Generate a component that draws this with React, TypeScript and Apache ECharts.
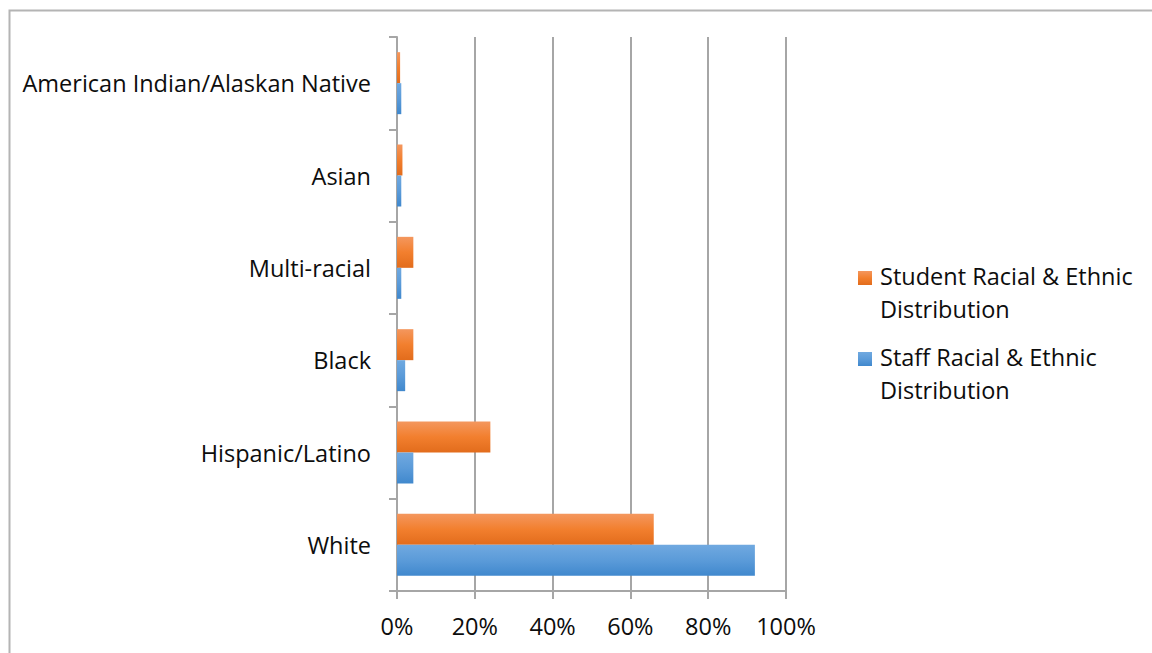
import React, { useEffect, useRef } from "react";
import * as echarts from "echarts";

// Racial & ethnic make-up, in percent, bottom category first
const categories = [
  "White",
  "Hispanic/Latino",
  "Black",
  "Multi-racial",
  "Asian",
  "American Indian/Alaskan Native",
];
const seriesNames = [
  "Student Racial & Ethnic Distribution",
  "Staff Racial & Ethnic Distribution",
];
const legendLines = [
  "Student Racial & Ethnic\nDistribution",
  "Staff Racial & Ethnic\nDistribution",
];
const studentShare = [66, 24, 4.2, 4.2, 1.4, 0.8];
const staffShare = [92, 4.2, 2.1, 1.1, 1.1, 1.1];
const xTicks = [0, 20, 40, 60, 80, 100];

const FONT = "'Open Sans', 'Noto Sans', sans-serif";
const FONT_SIZE = 23.5;
const AXIS_GREY = "#A6A6A6";

const orangeFill = () =>
  new echarts.graphic.LinearGradient(0, 0, 0, 1, [
    { offset: 0, color: "#F4975E" },
    { offset: 0.5, color: "#F27F2E" },
    { offset: 1, color: "#E26C1C" },
  ]);
const blueFill = () =>
  new echarts.graphic.LinearGradient(0, 0, 0, 1, [
    { offset: 0, color: "#70A9E0" },
    { offset: 0.5, color: "#5B9BD9" },
    { offset: 1, color: "#4088CD" },
  ]);

const fills = [orangeFill, blueFill];

export default function App() {
  const ref = useRef<HTMLDivElement>(null);

  useEffect(() => {
    if (!ref.current) return;
    const chart = echarts.init(ref.current, undefined, { renderer: "svg" });

    const legendGraphics: any[] = [];
    seriesNames.forEach((_, i) => {
      const rowTop = 271 + i * 81;
      legendGraphics.push({
        type: "rect",
        left: 858,
        top: rowTop,
        shape: { width: 14, height: 14 },
        style: { fill: fills[i]() },
      });
      legendGraphics.push({
        type: "text",
        left: 880,
        top: rowTop - 12,
        style: {
          text: legendLines[i],
          font: `${FONT_SIZE}px ${FONT}`,
          fill: "#0D0D0D",
          lineHeight: 33,
        },
      });
    });

    chart.setOption({
      animation: false,
      backgroundColor: "#FFFFFF",
      grid: { left: 397, right: 366, top: 37, bottom: 62, containLabel: false },
      xAxis: {
        type: "value",
        min: xTicks[0],
        max: xTicks[xTicks.length - 1],
        interval: 20,
        axisLine: { show: true, lineStyle: { color: AXIS_GREY, width: 2 } },
        axisTick: { show: true, length: 8, lineStyle: { color: AXIS_GREY, width: 2 } },
        splitLine: { show: true, lineStyle: { color: AXIS_GREY, width: 2 } },
        axisLabel: {
          formatter: "{value}%",
          margin: 23,
          fontSize: FONT_SIZE,
          fontFamily: FONT,
          color: "#0D0D0D",
        },
      },
      yAxis: {
        type: "category",
        data: categories,
        axisLine: { show: true, lineStyle: { color: AXIS_GREY, width: 2 } },
        axisTick: { show: true, length: 8, lineStyle: { color: AXIS_GREY, width: 2 } },
        axisLabel: {
          margin: 26,
          fontSize: FONT_SIZE,
          fontFamily: FONT,
          color: "#0D0D0D",
        },
      },
      series: [
        {
          name: seriesNames[0],
          type: "bar",
          data: studentShare,
          barWidth: 31,
          barGap: "0%",
          itemStyle: { color: orangeFill() },
        },
        {
          name: seriesNames[1],
          type: "bar",
          data: staffShare,
          barWidth: 31,
          barGap: "0%",
          itemStyle: { color: blueFill() },
        },
      ],
      graphic: [
        {
          type: "rect",
          left: 7,
          top: 8,
          shape: { width: 1200, height: 700 },
          style: { fill: "none", stroke: "#B4B4B4", lineWidth: 2 },
          silent: true,
        },
        ...legendGraphics,
      ],
    });

    return () => chart.dispose();
  }, []);

  return (
    <div
      ref={ref}
      style={{ position: "absolute", left: 0, top: 0, width: 1152, height: 653 }}
    />
  );
}
